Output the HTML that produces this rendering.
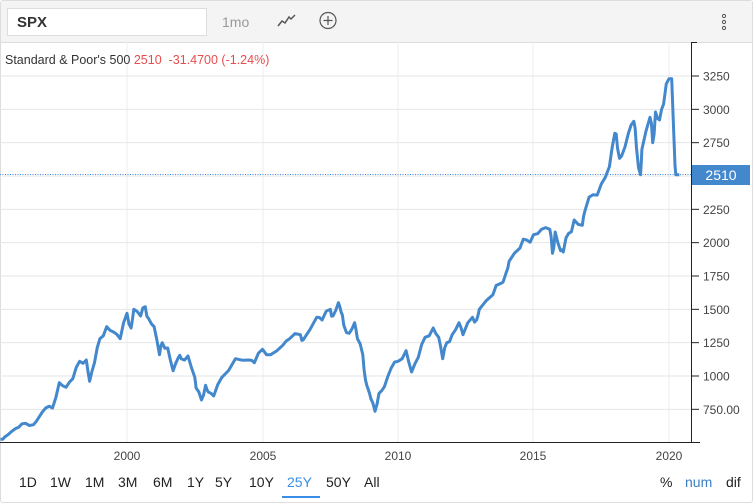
<!DOCTYPE html>
<html><head><meta charset="utf-8"><style>
body{margin:0;width:753px;height:503px;overflow:hidden;background:#fff;font-family:"Liberation Sans",Arial,sans-serif;}
#wrap{position:absolute;left:0;top:0;width:751px;height:501px;border:1px solid #ddd;border-radius:3px;}
#top{position:absolute;left:0;top:0;width:751px;height:41px;background:#f4f4f4;border-bottom:1px solid #ddd;}
#sym{position:absolute;left:6px;top:7px;width:200px;height:28px;background:#fff;border:1px solid #ddd;font-weight:bold;font-size:15px;line-height:28px;padding-left:9px;box-sizing:border-box;color:#333;}
.t{position:absolute;font-size:13px;color:#333;white-space:nowrap;}
.b{position:absolute;top:474px;font-size:14px;color:#222;white-space:nowrap;}
</style></head><body>
<div id="wrap">
<div id="top">
<div id="sym">SPX</div>
<div class="t" style="left:221px;top:13px;color:#999;font-size:14px;">1mo</div>
<svg style="position:absolute;left:276px;top:13px" width="20" height="14"><polyline points="1,12 5,7 8,9 12,3 14,5 18,1" fill="none" stroke="#555" stroke-width="1.5"/></svg>
<svg style="position:absolute;left:318px;top:10px" width="20" height="20"><circle cx="9" cy="9.5" r="8" fill="none" stroke="#555" stroke-width="1.2"/><path d="M9 5v9M4.5 9.5h9" stroke="#555" stroke-width="1.2"/></svg>
<svg style="position:absolute;left:719px;top:12px" width="8" height="20"><circle cx="4" cy="3" r="1.6" fill="none" stroke="#555"/><circle cx="4" cy="9" r="1.6" fill="none" stroke="#555"/><circle cx="4" cy="15" r="1.6" fill="none" stroke="#555"/></svg>
</div>
</div>
<svg id="ch" style="position:absolute;left:0;top:0" width="753" height="503"></svg>
<div class="t" style="left:5px;top:53px;font-size:12.5px;">Standard &amp; Poor's 500 <span style="color:#e84c4c">2510 &nbsp;-31.4700 (-1.24%)</span></div>
<div class="b" style="left:19px">1D</div><div class="b" style="left:50px">1W</div><div class="b" style="left:85px">1M</div><div class="b" style="left:118px">3M</div><div class="b" style="left:153px">6M</div><div class="b" style="left:187px">1Y</div><div class="b" style="left:215px">5Y</div><div class="b" style="left:249px">10Y</div><div class="b" style="left:287px;color:#3a8ee6">25Y</div><div class="b" style="left:326px">50Y</div><div class="b" style="left:364px">All</div>
<div style="position:absolute;left:282px;top:496px;width:38px;height:2px;background:#3a8ee6"></div>
<div class="b" style="left:660px">%</div>
<div class="b" style="left:685px;color:#3a7fc4">num</div>
<div class="b" style="left:726px">dif</div>
<script>
var s=document.getElementById('ch'),h='';
function Y(v){return 76+(3250-v)*0.13333;}
function X(t){return 127+(t-2000)*27.1;}
[127,263,398,533,669].forEach(function(x,i){h+='<line x1="'+x+'" y1="42" x2="'+x+'" y2="442" stroke="#eaeef3"/>';h+='<text x="'+x+'" y="460" font-size="12" fill="#444" text-anchor="middle" font-family="Liberation Sans">'+(2000+5*i)+'</text>';});
var tk=[3250,3000,2750,2500,2250,2000,1750,1500,1250,1000,750];
tk.forEach(function(v){var y=Y(v);h+='<line x1="0" y1="'+y+'" x2="691" y2="'+y+'" stroke="#e6e6e6"/>';h+='<line x1="691" y1="'+y+'" x2="699" y2="'+y+'" stroke="#222"/>';if(v!=2500)h+='<text x="703" y="'+(y+4.5)+'" font-size="12" fill="#444" font-family="Liberation Sans">'+(v==750?'750.00':v)+'</text>';});
h+='<line x1="691.5" y1="42" x2="691.5" y2="442" stroke="#222"/><line x1="691" y1="42.5" x2="697" y2="42.5" stroke="#222"/><line x1="0" y1="442.5" x2="700" y2="442.5" stroke="#222"/>';
var d=[1995.33,525,1995.5,545,1995.75,585,1996,615,1996.25,645,1996.55,635,1996.75,690,1997,760,1997.25,760,1997.5,950,1997.75,915,1998,980,1998.25,1110,1998.5,1120,1998.62,960,1998.8,1100,1999,1280,1999.25,1370,1999.5,1330,1999.75,1280,2000,1470,2000.15,1360,2000.25,1500,2000.5,1450,2000.67,1520,2000.8,1430,2001,1370,2001.2,1160,2001.3,1250,2001.5,1210,2001.7,1040,2001.9,1140,2002,1130,2002.25,1150,2002.5,990,2002.55,910,2002.75,820,2002.9,930,2003,880,2003.2,850,2003.5,990,2004,1130,2004.5,1120,2004.7,1100,2005,1200,2005.3,1160,2005.75,1230,2006,1280,2006.4,1310,2006.5,1270,2007,1440,2007.2,1420,2007.5,1500,2007.6,1450,2007.8,1550,2007.9,1480,2008,1380,2008.2,1320,2008.4,1400,2008.5,1280,2008.7,1160,2008.8,970,2008.9,900,2009,830,2009.15,735,2009.3,870,2009.5,920,2009.75,1060,2010,1110,2010.3,1190,2010.5,1030,2010.75,1140,2011,1290,2011.3,1360,2011.5,1290,2011.65,1130,2011.8,1250,2012,1310,2012.25,1400,2012.4,1310,2012.75,1440,2012.9,1420,2013,1500,2013.5,1610,2013.75,1690,2014,1780,2014.1,1860,2014.5,1960,2014.75,2020,2015,2060,2015.3,2100,2015.6,2100,2015.7,1920,2015.8,2080,2016,1940,2016.1,1930,2016.3,2070,2016.5,2170,2016.8,2130,2016.9,2240,2017.2,2360,2017.5,2440,2017.8,2570,2018,2820,2018.1,2710,2018.25,2650,2018.5,2820,2018.7,2910,2018.8,2710,2018.95,2510,2019,2700,2019.3,2940,2019.4,2750,2019.5,2980,2019.65,2920,2019.8,3040,2020,3230,2020.1,3230,2020.15,2950,2020.22,2580,2020.25,2510,2020.38,2510];
var p=[];for(var i=0;i<d.length;i+=2){p.push(X(d[i]).toFixed(1)+','+Y(d[i+1]).toFixed(1));if(i+2<d.length&&d[i]<2019.9){var t=(d[i]+d[i+2])/2,v=(d[i+1]+d[i+3])/2*(1+((i%8)-3)*0.006);p.push(X(t).toFixed(1)+','+Y(v).toFixed(1));}}
h+='<line x1="0" y1="174.5" x2="691" y2="174.5" stroke="#3a8ee6" stroke-dasharray="1,1.5"/>';
h+='<polyline points="'+p.join(' ')+'" fill="none" stroke="#4388cc" stroke-width="3" stroke-linejoin="round"/>';
h+='<rect x="692" y="165" width="58" height="20" fill="#4388cc"/><text x="721" y="180" font-size="14" fill="#fff" text-anchor="middle" font-family="Liberation Sans">2510</text>';
s.innerHTML=h;
</script>
</body></html>
